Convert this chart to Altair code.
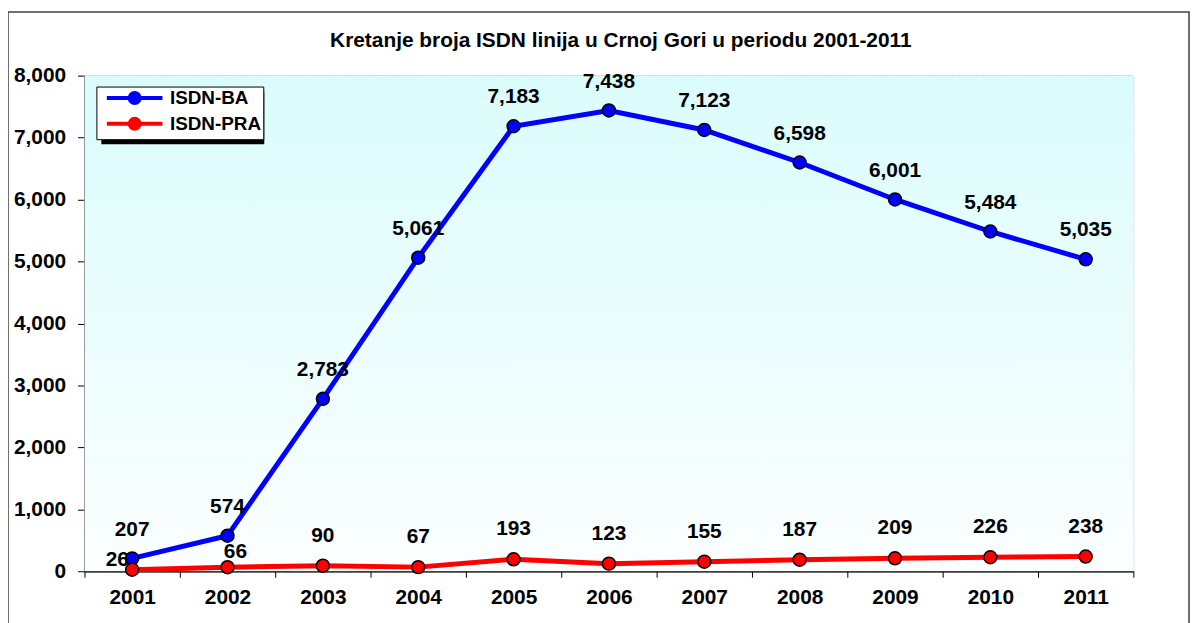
import altair as alt
import pandas as pd

years = ["2001", "2002", "2003", "2004", "2005", "2006", "2007", "2008", "2009", "2010", "2011"]
isdn_ba = [207, 574, 2783, 5061, 7183, 7438, 7123, 6598, 6001, 5484, 5035]
isdn_pra = [26, 66, 90, 67, 193, 123, 155, 187, 209, 226, 238]
series = ["ISDN-BA", "ISDN-PRA"]
colors = ["#0000ff", "#ff0000"]
title = "Kretanje broja ISDN linija u Crnoj Gori u periodu 2001-2011"

rows = []
for i, y in enumerate(years):
    rows.append({"year": y, "series": series[0], "value": isdn_ba[i]})
    rows.append({"year": y, "series": series[1], "value": isdn_pra[i]})
df = pd.DataFrame(rows)
one = pd.DataFrame({"t": [title]})

FONT = "Liberation Sans"
FS = 21
W, H = 1056, 499

xenc = alt.X("year:O", title=None, sort=years,
             scale=alt.Scale(paddingInner=0, paddingOuter=0),
             axis=alt.Axis(labelAngle=0, tickBand="extent", labelFont=FONT, labelFontSize=FS,
                           labelFontWeight="bold", labelColor="black", labelPadding=9,
                           domainColor="black", domainWidth=1.5, tickColor="black", tickSize=6,
                           grid=False))
yenc = alt.Y("value:Q", title=None,
             scale=alt.Scale(domain=[0, 8000], nice=False),
             axis=alt.Axis(values=list(range(0, 8001, 500)),
                           labelExpr="datum.value % 1000 == 0 ? format(datum.value, ',') : ''",
                           labelFont=FONT, labelFontSize=FS, labelFontWeight="bold",
                           labelColor="black", labelPadding=12,
                           domainColor="black", domainWidth=1.5,
                           tickColor="black", tickSize=7,
                           tickOpacity={"condition": {"test": "datum.value % 1000 == 0", "value": 1}, "value": 0},
                           grid=True, gridColor="#444444", gridDash=[2, 1], gridWidth=1))
color = alt.Color("series:N", sort=series,
                  scale=alt.Scale(domain=series, range=colors),
                  legend=alt.Legend(title=None, orient="none", legendX=12, legendY=11,
                                    fillColor="white", strokeColor="black",
                                    padding=2, rowPadding=-1,
                                    symbolType="M-5.6,0H5.6M1,0A1,1,0,1,1,-1,0A1,1,0,1,1,1,0",
                                    symbolSize=100, symbolStrokeWidth=4, symbolOffset=27,
                                    labelFont=FONT, labelFontSize=19, labelFontWeight="bold",
                                    labelColor="black", labelOffset=26))

base = alt.Chart(df)
single = alt.Chart(one)

bg = single.mark_rect(color=alt.Gradient(
    gradient="linear", x1=0, y1=0, x2=0, y2=1,
    stops=[alt.GradientStop(offset=0, color="#dbfcfc"), alt.GradientStop(offset=1, color="#fbfefe")])
).encode(x=alt.value(0), x2=alt.value(W), y=alt.value(0), y2=alt.value(H))
border = single.mark_rect(filled=False, stroke="#404040", strokeWidth=1.5).encode(
    x=alt.value(-77), x2=alt.value(1112), y=alt.value(-64), y2=alt.value(600))
shadow = single.mark_rect(color="black").encode(
    x=alt.value(17), x2=alt.value(181), y=alt.value(16), y2=alt.value(69))
title_mark = single.mark_text(font=FONT, fontSize=FS, fontWeight="bold", color="black",
                              align="center", baseline="alphabetic").encode(
    text="t:N", x=alt.value(540), y=alt.value(-29))

lines = base.mark_line(strokeWidth=5).encode(x=xenc, y=yenc, color=color)
points = base.mark_point(filled=True, shape="circle", size=170, stroke="black",
                         strokeWidth=1.5, opacity=1).encode(
    x="year:O", y="value:Q",
    fill=alt.Fill("series:N", scale=alt.Scale(domain=series, range=colors), legend=None))

txt = dict(font=FONT, fontSize=FS, fontWeight="bold", color="black", baseline="alphabetic")
lab_ba = base.transform_filter(alt.datum.series == series[0]).mark_text(dy=-23, **txt).encode(
    x="year:O", y="value:Q", text=alt.Text("value:Q", format=","))
lab_pra = base.transform_filter(
    (alt.datum.series == series[1]) & (alt.datum.year != "2001") & (alt.datum.year != "2002")
).mark_text(dy=-24, **txt).encode(x="year:O", y="value:Q", text=alt.Text("value:Q", format=","))
lab_pra02 = base.transform_filter(
    (alt.datum.series == series[1]) & (alt.datum.year == "2002")
).mark_text(dy=-9, dx=8, **txt).encode(x="year:O", y="value:Q", text=alt.Text("value:Q", format=","))
lab_pra01 = base.transform_filter(
    (alt.datum.series == series[1]) & (alt.datum.year == "2001")
).mark_text(dy=-4, dx=-15, **txt).encode(x="year:O", y="value:Q", text=alt.Text("value:Q", format=","))

chart = alt.layer(bg, border, shadow, title_mark, lines, points,
                  lab_ba, lab_pra, lab_pra02, lab_pra01).properties(
    width=W, height=H,
    autosize=alt.AutoSizeParams(type="none"),
    padding={"left": 77, "top": 66, "right": 57, "bottom": 50},
).configure_view(
    stroke="#808080", strokeWidth=2,
).configure(background="white")

chart.save("out.html", embed_options={"renderer": "svg", "actions": False})
